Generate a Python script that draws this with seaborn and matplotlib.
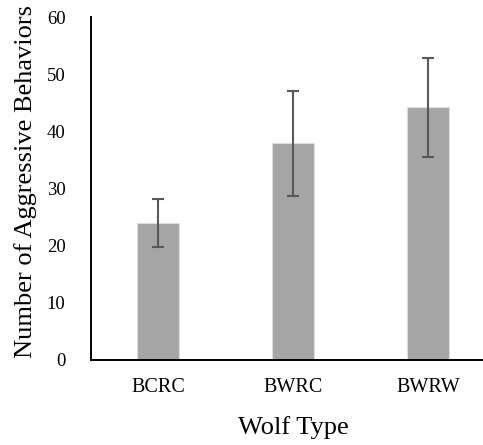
import numpy as np
import matplotlib
matplotlib.use("Agg")
import matplotlib.pyplot as plt
import seaborn as sns

# values
wolf_types = ["BCRC", "BWRC", "BWRW"]
mean_aggr = [23.9, 37.9, 44.2]
err_aggr = [4.2, 9.2, 8.65]
y_ticks = [0, 10, 20, 30, 40, 50, 60]

sns.set_style("white")
plt.rcParams["font.family"] = ["Liberation Serif", "DejaVu Serif"]
plt.rcParams["text.color"] = "black"
plt.rcParams["axes.labelcolor"] = "black"

fig = plt.figure(figsize=(4.83, 4.45), dpi=100)
# the plot area runs a little past the right edge of the picture
ax = fig.add_axes([90.5 / 483, 85 / 445, (495.5 - 90.5) / 483, (360 - 17) / 445])

sns.barplot(x=wolf_types, y=mean_aggr, color="#a5a5a5", width=0.31,
            edgecolor="#dedede", linewidth=0.8, saturation=1, errorbar=None, ax=ax)
ax.errorbar(np.arange(len(wolf_types)), mean_aggr, yerr=err_aggr, fmt="none",
            ecolor="#595959", elinewidth=1.5, capsize=4.3, capthick=1.5)

ax.set_ylim(0, 60)
ax.set_yticks(y_ticks)
ax.set_xlim(-0.5, 2.5)
ax.tick_params(axis="both", length=0, colors="black")
ax.tick_params(axis="y", pad=18, labelsize=13.5)
ax.tick_params(axis="x", pad=13, labelsize=14.5)

ax.set_xlabel("Wolf Type", fontsize=19, labelpad=14, color="black")
ax.set_ylabel("Number of Aggressive Behaviors", fontsize=19, color="black")
ax.yaxis.set_label_coords(-0.133, 0.52)

for side in ["top", "right"]:
    ax.spines[side].set_visible(False)
for side in ["left", "bottom"]:
    ax.spines[side].set_color("black")
    ax.spines[side].set_linewidth(1.4)

fig.savefig("out.png", dpi=100)
